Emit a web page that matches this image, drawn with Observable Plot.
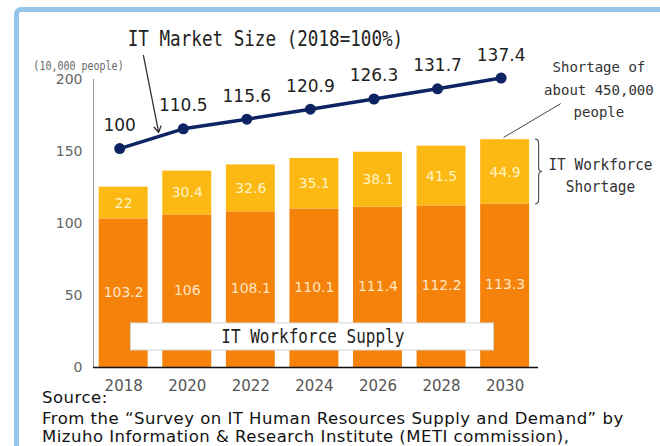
<!DOCTYPE html>
<html><head><meta charset="utf-8">
<script src="https://cdn.jsdelivr.net/npm/d3@7"></script>
<script src="https://cdn.jsdelivr.net/npm/@observablehq/plot@0.6"></script>
<style>
body{margin:0;width:660px;height:446px;overflow:hidden;background:#fff;position:relative;font-family:"DejaVu Sans",sans-serif;}
#frame{position:absolute;left:14px;top:7px;width:700px;height:500px;border-left:5px solid #93c6ea;border-top:5px solid #93c6ea;border-top-left-radius:7px;}
#chart{position:absolute;left:0;top:0;}
#caption{position:absolute;left:42px;top:389px;font-size:16.5px;letter-spacing:0.5px;color:#111;line-height:18.5px;}
</style></head><body>
<div id="frame"></div><div id="chart"></div>
<div id="caption"><div style="margin-bottom:2px">Source:</div><div>From the “Survey on IT Human Resources Supply and Demand” by</div><div>Mizuho Information &amp; Research Institute (METI commission),</div></div>
<script>
const years = [2018, 2020, 2022, 2024, 2026, 2028, 2030];
const supply = [103.2, 106, 108.1, 110.1, 111.4, 112.2, 113.3];
const shortage = [22, 30.4, 32.6, 35.1, 38.1, 41.5, 44.9];
const marketSize = [100, 110.5, 115.6, 120.9, 126.3, 131.7, 137.4];
const yTicks = [0, 50, 100, 150, 200];
const titleText = "IT Market Size (2018=100%)";
const unitText = "(10,000 people)";
const supplyText = "IT Workforce Supply";
const shortageText = "IT Workforce\nShortage";
const calloutText = "Shortage of\nabout 450,000\npeople";

// secondary mapping of the market-size index onto the left axis
const marketToY = d3.scaleLinear([100, 137.4], [152, 201]);

const rows = years.map((year, i) => ({
  year, supply: supply[i], shortage: shortage[i],
  total: supply[i] + shortage[i], market: marketSize[i]
}));

const xDomain = [2017.05, 2031.05];
const half = 0.77;
const mono = "DejaVu Sans Mono";
const monoSide = "DejaVu Sans Mono, monospace";
const navy = "#0c2461";

const plot = Plot.plot({
  width: 660, height: 392,
  marginLeft: 93, marginRight: 122, marginTop: 79, marginBottom: 25,
  style: {background: "transparent", fontFamily: "DejaVu Sans", fontSize: "14px", color: "#555", overflow: "visible"},
  x: {domain: xDomain, ticks: years, tickFormat: d => String(d), tickSize: 0, tickPadding: 13, label: null},
  y: {domain: [0, 200], ticks: yTicks, tickSize: 0, tickPadding: 11, label: null},
  marks: [
    Plot.rectY(rows, {x1: d => d.year - half, x2: d => d.year + half, y1: 0, y2: "supply", fill: "#f5820a"}),
    Plot.rectY(rows, {x1: d => d.year - half, x2: d => d.year + half, y1: "supply", y2: "total", fill: "#fdb913"}),
    Plot.ruleX([xDomain[0]], {y1: 0, y2: 200, stroke: "#999"}),
    Plot.ruleY([0], {stroke: "#111", strokeWidth: 1.5}),
    Plot.text(rows, {x: "year", y: d => d.supply / 2, dy: -1, text: d => String(d.supply), fill: "#ffe6c4", fontSize: 14}),
    Plot.text(rows, {x: "year", y: d => d.supply + d.shortage / 2, text: d => String(d.shortage), fill: "#fff3c4", fontSize: 14}),
    Plot.rect([{}], {x1: () => 2018.23, x2: () => 2029.65, y1: () => 11.8, y2: () => 30.6, fill: "white", stroke: "#d4d4d4"}),
    Plot.text([supplyText], {x: () => 2023.95, y: () => 21.2, fontFamily: mono, fontSize: 20, fill: "#222"}),
    Plot.line(rows, {x: "year", y: d => marketToY(d.market), stroke: navy, strokeWidth: 3.5, dx: -4}),
    Plot.dot(rows, {x: "year", y: d => marketToY(d.market), r: 5.5, fill: navy, dx: -4}),
    Plot.text(rows, {x: "year", y: d => marketToY(d.market), text: d => String(d.market), dx: -4, dy: -23, fontSize: 17, fill: "#222"}),
    Plot.text([titleText], {x: () => 2022.46, y: () => 228.5, fontFamily: mono, fontSize: 22, fill: "#222"}),
    Plot.arrow([{}], {x1: () => 2018.62, y1: () => 216.7, x2: () => 2019.1, y2: () => 163.2, stroke: "#333", strokeWidth: 1.3, headLength: 8}),
    Plot.text([unitText], {frameAnchor: "top-left", textAnchor: "middle", lineAnchor: "middle", dx: -15, dy: -14, fontFamily: mono, fontSize: 12.5, fill: "#666"}),
    Plot.link([{}], {x1: () => 2029.95, y1: () => 159.7, x2: () => 2031.75, y2: () => 183.3, stroke: "#444", strokeWidth: 1}),
    Plot.text([calloutText], {x: () => 2032.95, y: () => 194.4, lineHeight: 1.6, fontFamily: "DejaVu Sans Mono, sans-serif", fontSize: 14, fill: "#333"}),
    Plot.text([shortageText], {x: () => 2033.0, y: () => 134.7, lineHeight: 1.45, fontFamily: monoSide, fontSize: 15.5, fill: "#333"})
  ]
});
document.getElementById("chart").appendChild(plot);

plot.querySelectorAll('g[aria-label^="x-axis"] text').forEach(t => { t.style.fontSize = "15px"; t.style.fill = "#555"; });
plot.querySelectorAll('g[aria-label^="y-axis"] text').forEach(t => { t.style.fill = "#666"; });

// condensed gothic-like monospace
function condense(family, factor) {
  plot.querySelectorAll(`g[font-family="${family}"] text`).forEach(t => {
    const parts = t.querySelectorAll("tspan");
    (parts.length ? [...parts] : [t]).forEach(el => {
      const L = el.getComputedTextLength();
      el.setAttribute("textLength", (L * factor).toFixed(1));
      el.setAttribute("lengthAdjust", "spacingAndGlyphs");
    });
  });
}
condense(mono, 0.8);
condense(monoSide, 0.93);

// curly brace spanning the 2030 shortage segment
const xs = plot.scale("x"), ys = plot.scale("y");
const sx = d3.scaleLinear(xs.domain, xs.range), sy = d3.scaleLinear(ys.domain, ys.range);
const last = rows[rows.length - 1];
const x0 = sx(last.year + half) + 6, w = 7;
const yt = sy(last.total), yb = sy(last.supply), ym = (yt + yb) / 2, xm = x0 + w / 2;
d3.select(plot).append("path")
  .attr("d", `M${x0},${yt} Q${xm},${yt} ${xm},${yt + 4} L${xm},${ym - 4} Q${xm},${ym} ${x0 + w},${ym} Q${xm},${ym} ${xm},${ym + 4} L${xm},${yb - 4} Q${xm},${yb} ${x0},${yb}`)
  .attr("fill", "none").attr("stroke", "#555").attr("stroke-width", 1.2);
</script>
</body></html>
